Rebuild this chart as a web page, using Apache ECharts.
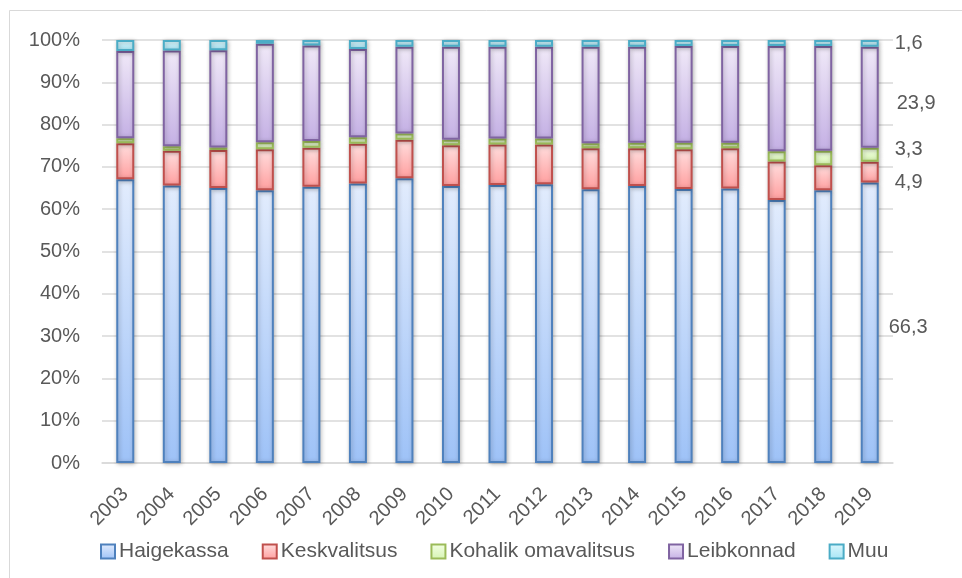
<!DOCTYPE html>
<html>
<head>
<meta charset="utf-8">
<script src="https://cdn.jsdelivr.net/npm/echarts@6/dist/echarts.min.js"></script>
<style>
html,body{margin:0;padding:0;background:#fff;}
#main{width:962px;height:578px;}
</style>
</head>
<body>
<div id="main"></div>
<script>
const years = ['2003','2004','2005','2006','2007','2008','2009','2010','2011','2012','2013','2014','2015','2016','2017','2018','2019'];
const haigekassa   = [67.1,65.6,65.0,64.5,65.3,66.1,67.3,65.5,65.7,65.9,64.7,65.5,64.8,64.9,62.2,64.5,66.3];
const keskvalitsus = [8.5,8.2,9.0,9.7,9.2,9.4,9.1,9.6,9.6,9.4,9.7,8.9,9.4,9.5,9.1,5.9,4.9];
const kohalik      = [1.2,1.1,0.6,1.6,1.6,1.5,1.5,1.3,1.4,1.4,1.2,1.3,1.5,1.3,2.4,3.4,3.3];
const leibkonnad   = [20.6,22.6,23.0,23.3,22.6,20.9,20.5,22.0,21.7,21.7,22.8,22.7,22.9,22.9,24.9,24.8,23.9];
const muu          = [2.6,2.5,2.4,0.9,1.3,2.1,1.6,1.6,1.6,1.6,1.6,1.6,1.4,1.4,1.4,1.4,1.6];
const yTicks = [0,10,20,30,40,50,60,70,80,90,100];
const seriesNames = ['Haigekassa','Keskvalitsus','Kohalik omavalitsus','Leibkonnad','Muu'];

const FONT = '"Liberation Sans", Arial, sans-serif';
const TXT = '#595959';

function grad(top, bottom) {
  return new echarts.graphic.LinearGradient(0,0,0,1,[{offset:0,color:top},{offset:1,color:bottom}]);
}
const styles = [
  {top:'#e2ecfd', bottom:'#9ec2f7', border:'#4f81bd'},
  {top:'#ffdede', bottom:'#ff9f9f', border:'#c0504d'},
  {top:'#f3ffe4', bottom:'#d6f4b2', border:'#9bbb59'},
  {top:'#f0e9f8', bottom:'#c4b0e4', border:'#8064a2'},
  {top:'#ddf7fd', bottom:'#a6e5f5', border:'#4bacc6'}
];
// label offsets for the last bar [dx, dy]
const labelOffsets = [[-6,5],[0,10],[0,-5],[2,6],[0,0]];
const dataSets = [haigekassa, keskvalitsus, kohalik, leibkonnad, muu];

const series = dataSets.map((arr, si) => ({
  name: seriesNames[si],
  type: 'bar',
  stack: 'total',
  barWidth: 18,
  itemStyle: {
    color: grad(styles[si].top, styles[si].bottom),
    borderColor: styles[si].border,
    borderWidth: 2,
    shadowColor: 'rgba(0,0,0,0.25)',
    shadowBlur: 4,
    shadowOffsetX: 1,
    shadowOffsetY: 1
  },
  data: arr.map((v, i) => {
    if (i === arr.length - 1) {
      return {
        value: v,
        label: {
          show: true,
          position: 'right',
          distance: 16,
          offset: labelOffsets[si],
          formatter: (p) => String(p.value).replace('.', ','),
          color: TXT,
          fontFamily: FONT,
          fontSize: 20
        }
      };
    }
    return v;
  })
}));

const chart = echarts.init(document.getElementById('main'), null, {renderer:'canvas'});
chart.setOption({
  animation: false,
  backgroundColor: '#fff',
  graphic: [{
    type: 'rect',
    shape: {x: 9.5, y: 10.5, width: 1000, height: 1000},
    style: {fill: 'none', stroke: '#d9d9d9', lineWidth: 1},
    silent: true, z: -1
  }],
  grid: {left: 102, right: 69, top: 40, bottom: 115, containLabel: false},
  legend: {
    data: seriesNames,
    left: 95,
    top: 536,
    icon: 'rect',
    itemWidth: 14,
    itemHeight: 14,
    itemGap: 33,
    textStyle: {color: TXT, fontFamily: FONT, fontSize: 21, padding: [0,0,0,-1]}
  },
  xAxis: {
    type: 'category',
    data: years,
    axisLine: {lineStyle: {color: '#d9d9d9', width: 1.5}},
    axisTick: {show: false},
    axisLabel: {rotate: 45, color: TXT, fontFamily: FONT, fontSize: 20, margin: 28, interval: 0}
  },
  yAxis: {
    type: 'value',
    min: 0, max: 100, interval: 10,
    axisLine: {show: false},
    axisTick: {show: false},
    splitLine: {lineStyle: {color: '#d9d9d9', width: 1.5}},
    axisLabel: {
      color: TXT, fontFamily: FONT, fontSize: 20, margin: 22,
      formatter: (v) => yTicks.includes(v) ? v + '%' : ''
    }
  },
  series: series
});
</script>
</body>
</html>
